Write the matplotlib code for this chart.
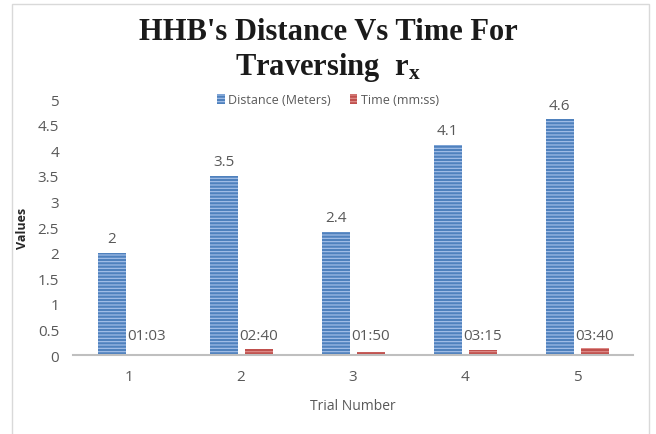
import matplotlib
matplotlib.use("Agg")
import matplotlib.pyplot as plt
from matplotlib.patches import Rectangle
import numpy as np

trials = [1, 2, 3, 4, 5]
distance = [2, 3.5, 2.4, 4.1, 4.6]
time_vals = [0.003, 0.11, 0.05, 0.10, 0.14]
time_labels = ["01:03", "02:40", "01:50", "03:15", "03:40"]
yticks = [0, 0.5, 1, 1.5, 2, 2.5, 3, 3.5, 4, 4.5, 5]

plt.rcParams['font.family'] = ['Liberation Sans Narrow', 'Open Sans', 'DejaVu Sans']
plt.rcParams['hatch.linewidth'] = 0.8
plt.rcParams['mathtext.fontset'] = 'custom'
plt.rcParams['mathtext.rm'] = 'Liberation Serif:bold'
plt.rcParams['mathtext.bf'] = 'Liberation Serif:bold'
plt.rcParams['mathtext.it'] = 'Liberation Serif:bold'

fig = plt.figure(figsize=(6.56, 4.35), dpi=100)
fig.patches.append(Rectangle((12/656, -0.05), (649-12)/656, 1.05 - 5/435,
                             transform=fig.transFigure, fill=False,
                             edgecolor='#d9d9d9', linewidth=1))

ax = fig.add_axes([73/656, 1-356/435, (633-73)/656, 256/435])
x = np.array(trials, dtype=float)
w = 0.25
b1 = ax.bar(x - 0.155, distance, w, color='#4f81bd', edgecolor='#a8c3ea',
            linewidth=0, hatch='-----', label='Distance (Meters)')
b2 = ax.bar(x + 0.16, time_vals, w, color='#c0504d', edgecolor='#e08f8c',
            linewidth=0, hatch='-----', label='Time (mm:ss)')

gray = '#595959'
for xi, d in zip(x, distance):
    ax.annotate(f"{d:g}", (xi - 0.155, d), xytext=(0, 5), textcoords='offset points',
                ha='center', va='bottom', fontsize=11, color=gray)
for xi, t, lab in zip(x, time_vals, time_labels):
    ax.annotate(lab, (xi + 0.16, 0.12), xytext=(0, 4), textcoords='offset points',
                ha='center', va='bottom', fontsize=11, color=gray)

ax.set_xlim(0.5, 5.5)
ax.set_ylim(0, 5)
ax.set_yticks(yticks)
ax.set_yticklabels([f"{v:g}" for v in yticks])
ax.set_xticks(trials)
for s in ['top', 'right', 'left']:
    ax.spines[s].set_visible(False)
ax.spines['bottom'].set_color('#bfbfbf')
ax.spines['bottom'].set_linewidth(1.5)
ax.tick_params(axis='both', length=0, labelsize=11, colors=gray)
ax.tick_params(axis='y', pad=10)
ax.tick_params(axis='x', pad=10)
ax.set_xlabel('Trial Number', fontsize=10, color=gray, labelpad=10)
ax.set_ylabel('Values', fontsize=9, fontweight='bold', color='#262626')
ax.yaxis.set_label_coords((29 - 73) / 560, (356 - 228) / 256)

fig.text(0.5, 1-32/435, "HHB's Distance Vs Time For", ha='center', va='center',
         fontsize=22, fontweight='bold', family='Liberation Serif', color='#1a1a1a')
fig.text(0.5, 1-67/435, "Traversing  r$_\\mathrm{x}$", ha='center', va='center',
         fontsize=22, fontweight='bold', family='Liberation Serif', color='#1a1a1a')

leg = fig.legend(handles=[b1, b2], loc='center', bbox_to_anchor=(0.5, 1-101/435),
                 ncol=2, frameon=False, fontsize=9, handlelength=0.6, handleheight=0.8,
                 columnspacing=1.5, handletextpad=0.3, labelcolor=gray)

fig.savefig('out.png', dpi=100)
